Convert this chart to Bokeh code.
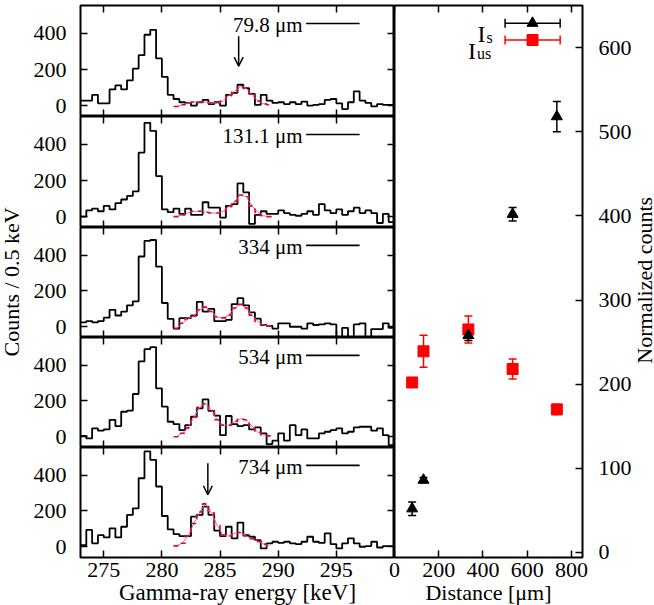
import math

from bokeh.embed import file_html
from bokeh.layouts import column, row
from bokeh.models import (Arrow, ColumnDataSource, FixedTicker, Label, LinearAxis,
                          OpenHead, Range1d, TeeHead, Whisker)
from bokeh.plotting import figure
from bokeh.resources import INLINE

FONT = "'Liberation Serif'"

# ---------------------------------------------------------------------------
# Gamma-ray spectra: counts per 0.5 keV bin, first bin starts at 273.0 keV
# ---------------------------------------------------------------------------
bin_start = 273.0
bin_width = 0.5

counts_79_8 = [28, 28, 60, 13, 13, 90, 112, 90, 140, 205, 280, 393, 420, 262, 159,
               60, 37, 19, 15, 0, 19, 32, 9, 19, 0, 60, 71, 116, 97, 65, 4, 60, 28,
               15, 19, 9, 19, 9, 22, 0, 4, 9, 32, 37, 13, -19, 19, 79, 28, 15, -4,
               9, 4, 4]
counts_131_1 = [0, 35, 45, 30, 60, 40, 75, 95, 115, 140, 355, 520, 475, 225, 40, 25,
                45, 15, 45, 10, 10, 80, 50, 50, -5, 60, 70, 185, 135, -40, 10, 30, 15,
                15, 35, 20, 10, 5, 15, 30, 10, 70, 35, 20, 40, 10, 30, 50, 20, 35, 20,
                -35, 15, -30]
counts_334 = [25, 32, 25, 32, 51, 95, 63, 85, 120, 142, 393, 480, 485, 336, 133, 44,
              -10, 48, 48, 63, 139, 85, 100, 32, 32, 38, 127, 160, 120, 80, 45, 10, 5,
              -10, 19, 19, 0, 0, -10, 19, 10, 13, 19, 13, -57, -6, -57, 13, 19, -63,
              -13, -13, 19, -6]
counts_534 = [5, -9, 47, 34, 41, 94, 60, 140, 146, 239, 421, 490, 501, 271, 168, 84,
              71, 37, 65, 112, 159, 209, 145, 118, 9, 116, 71, 60, 65, 41, 52, 19, -41,
              -22, 19, -22, 65, 9, 41, -9, -9, 19, 28, 37, 47, 19, 28, 52, 56, 56, 34,
              47, 9, -47]
counts_734 = [9, 94, 19, 65, 52, 103, 52, 112, 178, 215, 383, 533, 486, 337, 172, 97,
              71, 60, 60, 168, 178, 224, 178, 90, 60, 112, 47, 135, 65, 56, 37, -9, 19,
              28, 22, 28, 19, 15, 28, 56, 28, 22, 75, 15, -9, 19, 47, 19, 0, 4, 28, -4,
              4, 4]

# fitted spectrum over the 281.0 - 289.5 keV window (same 0.5 keV bins)
fit_start = 281.0
fit_79_8 = [-5, 5, 15, 20, 20, 20, 15, 15, 25, 55, 80, 105, 95, 60, 25, 10, 5]
fit_131_1 = [0, 10, 20, 30, 30, 25, 20, 20, 30, 55, 85, 120, 110, 60, 25, 5, 0]
fit_334 = [-10, 20, 45, 60, 95, 110, 85, 55, 50, 65, 105, 125, 105, 65, 30, 10, 5]
fit_534 = [0, 20, 50, 110, 165, 185, 150, 95, 65, 65, 85, 100, 95, 60, 25, 10, 5]
fit_734 = [5, 20, 60, 130, 195, 240, 190, 120, 65, 60, 75, 80, 60, 45, 30, 15, 5]

panel_labels = ["79.8 \u03bcm", "131.1 \u03bcm", "334 \u03bcm", "534 \u03bcm", "734 \u03bcm"]
panel_counts = [counts_79_8, counts_131_1, counts_334, counts_534, counts_734]
panel_fits = [fit_79_8, fit_131_1, fit_334, fit_534, fit_734]

# arrows marking the line of interest: (panel index, energy, tail, tip)
arrow_panel = [0, 4]
arrow_energy = [286.6, 283.95]
arrow_tail = [385, 467]
arrow_tip = [219, 291]

energy_ticks = [275, 280, 285, 290, 295]
count_ticks = [0, 200, 400]

# ---------------------------------------------------------------------------
# Normalized intensities versus distance
# ---------------------------------------------------------------------------
distance = [79.8, 131.1, 334, 534, 734]
i_s = [52, 86, 258, 402, 518]
i_s_err = [8, 3, 6, 8, 18]
i_us = [202, 239, 265, 218, 170]
i_us_err = [4, 19, 16, 12, 6]

distance_ticks = [0, 200, 400, 600, 800]
norm_ticks = [0, 100, 200, 300, 400, 500, 600]


def plain_axis(ticks, **kw):
    """Axis that only draws inward tick marks (labels suppressed)."""
    ax = LinearAxis(ticker=FixedTicker(ticks=ticks), **kw)
    ax.major_label_overrides = {t: "" for t in ticks}
    ax.major_label_text_font_size = "0px"
    ax.major_label_standoff = 0
    ax.major_tick_in = 7
    ax.major_tick_out = 0
    ax.minor_tick_in = 0
    ax.minor_tick_out = 0
    ax.axis_line_color = None
    ax.major_tick_line_color = "black"
    ax.major_tick_line_width = 1.5
    return ax


def label_axis(ticks, standoff, **kw):
    ax = LinearAxis(ticker=FixedTicker(ticks=ticks), **kw)
    ax.major_label_text_font = FONT
    ax.major_label_text_font_size = "22px"
    ax.major_label_text_color = "black"
    ax.major_label_standoff = standoff
    ax.major_tick_in = 7
    ax.major_tick_out = 0
    ax.minor_tick_in = 0
    ax.minor_tick_out = 0
    ax.axis_line_color = None
    ax.major_tick_line_color = "black"
    ax.major_tick_line_width = 1.5
    ax.axis_label_text_font = FONT
    ax.axis_label_text_font_size = "23px"
    ax.axis_label_text_font_style = "normal"
    ax.axis_label_text_color = "black"
    return ax


def title_strip(width, text, x, y_start):
    """Narrow figure holding a vertical axis title that reads bottom to top."""
    f = figure(width=width, height=605, x_range=Range1d(0, width),
               y_range=Range1d(0, 605), x_axis_location=None, y_axis_location=None,
               min_border=0, output_backend="svg", toolbar_location=None)
    f.grid.visible = False
    f.outline_line_color = None
    f.add_layout(Label(x=x, y=y_start, text=text, angle=math.pi / 2,
                       text_align="left", text_baseline="middle", text_font=FONT,
                       text_font_size="22px", text_color="black"))
    return f


ylab = title_strip(30, "Counts / 0.5 keV", 11, 219)

frame_heights = [111, 111, 110, 110, 110]
left_panels = []
n_panels = len(panel_counts)
for k in range(n_panels):
    first = k == 0
    last = k == n_panels - 1
    p = figure(frame_width=314, frame_height=frame_heights[k],
               min_border_left=47, min_border_right=0,
               min_border_top=5 if first else 0,
               min_border_bottom=48 if last else 0,
               x_range=Range1d(273, 300), y_range=Range1d(-60, 555),
               x_axis_location=None, y_axis_location=None,
               output_backend="svg", toolbar_location=None)
    p.grid.visible = False
    p.outline_line_color = "black"
    p.outline_line_width = 2
    p.background_fill_color = "white"
    p.border_fill_color = "white"

    p.add_layout(label_axis(count_ticks, 14), "left")
    p.add_layout(plain_axis(count_ticks), "right")
    p.add_layout(plain_axis(energy_ticks), "above")
    if last:
        xb = label_axis(energy_ticks, 5)
        xb.axis_label = "Gamma-ray energy [keV]"
        xb.axis_label_standoff = 0
        p.add_layout(xb, "below")
    else:
        p.add_layout(plain_axis(energy_ticks), "below")

    counts = panel_counts[k]
    edges = [bin_start + bin_width * i for i in range(len(counts) + 1)]
    p.step(x=edges, y=counts + [counts[-1]], mode="after",
           line_color="black", line_width=1.8)

    fit = panel_fits[k]
    fedges = [fit_start + bin_width * i for i in range(len(fit) + 1)]
    fcent = [fit_start + bin_width * (i + 0.5) for i in range(len(fit))]
    p.line(x=fcent, y=fit, line_color="#9a7cff", line_width=1)
    p.step(x=fedges, y=fit + [fit[-1]], mode="after",
           line_color="#ff0000", line_width=1.6, line_dash="5 5")

    # key: label text followed by a short line sample
    p.add_layout(Label(x=292.1, y=448, text=panel_labels[k], text_align="right",
                       text_baseline="middle", text_font=FONT,
                       text_font_size="21px", text_color="black"))
    p.line(x=[292.4, 297.0], y=[455, 455], line_color="black", line_width=1.6)

    for a in range(len(arrow_panel)):
        if arrow_panel[a] == k:
            p.add_layout(Arrow(end=OpenHead(size=9, line_width=1.5, line_color="black"),
                               x_start=arrow_energy[a], y_start=arrow_tail[a],
                               x_end=arrow_energy[a], y_end=arrow_tip[a],
                               line_width=1.5, line_color="black"))
    left_panels.append(p)

# ---------------------------------------------------------------------------
# Right panel
# ---------------------------------------------------------------------------
r = figure(frame_width=188, frame_height=552,
           min_border_left=8, min_border_right=52,
           min_border_top=5, min_border_bottom=48,
           x_range=Range1d(0, 850), y_range=Range1d(-6, 650),
           x_axis_location=None, y_axis_location=None,
           output_backend="svg", toolbar_location=None,
           styles={"margin-left": "-8px"})
r.grid.visible = False
r.outline_line_color = "black"
r.outline_line_width = 2
r.background_fill_color = "white"
r.border_fill_alpha = 0

r.add_layout(label_axis(norm_ticks, 16), "right")
xr = label_axis(distance_ticks, 5)
xr.axis_label = "Distance [\u03bcm]"
xr.axis_label_text_font_size = "22px"
xr.axis_label_standoff = 0
r.add_layout(xr, "below")
r.add_layout(plain_axis(distance_ticks), "above")

src_s = ColumnDataSource(dict(x=distance, y=i_s,
                              lo=[v - e for v, e in zip(i_s, i_s_err)],
                              hi=[v + e for v, e in zip(i_s, i_s_err)]))
src_us = ColumnDataSource(dict(x=distance, y=i_us,
                               lo=[v - e for v, e in zip(i_us, i_us_err)],
                               hi=[v + e for v, e in zip(i_us, i_us_err)]))

for src, col in ((src_us, "#ff0000"), (src_s, "black")):
    r.add_layout(Whisker(source=src, base="x", upper="hi", lower="lo",
                         dimension="height", line_color=col, line_width=1.5,
                         upper_head=TeeHead(size=8, line_color=col, line_width=1.5),
                         lower_head=TeeHead(size=8, line_color=col, line_width=1.5)))
r.scatter("x", "y", source=src_us, marker="square", size=11,
          fill_color="#ff0000", line_color="#ff0000")
r.scatter("x", "y", source=src_s, marker="triangle", size=11,
          fill_color="black", line_color="black")

# legend drawn in the gnuplot style: label, then an error-bar sample
key_x0, key_x1, key_xm = 500, 749, 624
key_y = [629, 609]
key_colors = ["black", "#ff0000"]
key_markers = ["triangle", "square"]
key_sub = ["s", "us"]
key_anchor = [411, 369]
for i in range(2):
    r.segment(x0=[key_x0], x1=[key_x1], y0=[key_y[i]], y1=[key_y[i]],
              line_color=key_colors[i], line_width=1.5)
    r.scatter(x=[key_x0, key_x1], y=[key_y[i], key_y[i]], marker="dash",
              angle=math.pi / 2, size=9, line_color=key_colors[i], line_width=1.5)
    r.scatter(x=[key_xm], y=[key_y[i]], marker=key_markers[i], size=11,
              fill_color=key_colors[i], line_color=key_colors[i])
    r.add_layout(Label(x=key_anchor[i], y=key_y[i] - 13, text="I", text_align="right",
                       text_baseline="alphabetic", text_font=FONT,
                       text_font_size="24px", text_color="black"))
    r.add_layout(Label(x=key_anchor[i], y=key_y[i] - 13, x_offset=1, y_offset=-3,
                       text=key_sub[i], text_align="left",
                       text_baseline="alphabetic", text_font=FONT,
                       text_font_size="16px", text_color="black"))

rlab = title_strip(23, "Normalized counts", 10, 211)

layout = row(ylab, column(*left_panels), r, rlab)
open("out.html", "w").write(file_html(layout, INLINE))
